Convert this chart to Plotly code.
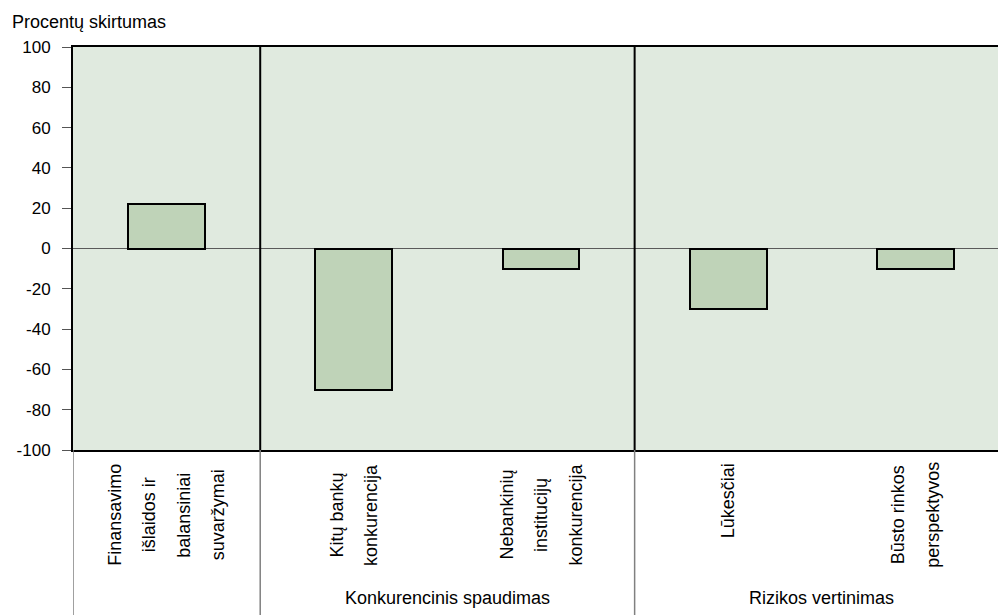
import plotly.graph_objects as go

# ---- data ----
categories = ["Finansavimo išlaidos ir balansiniai suvaržymai",
              "Kitų bankų konkurencija",
              "Nebankinių institucijų konkurencija",
              "Lūkesčiai",
              "Būsto rinkos perspektyvos"]
category_lines = [["Finansavimo", "išlaidos ir", "balansiniai", "suvaržymai"],
                  ["Kitų bankų", "konkurencija"],
                  ["Nebankinių", "institucijų", "konkurencija"],
                  ["Lūkesčiai"],
                  ["Būsto rinkos", "perspektyvos"]]
values = [22, -70, -10, -30, -10]
groups = ["", "Konkurencinis spaudimas", "Rizikos vertinimas"]
group_sizes = [1, 2, 2]
y_ticks = [100, 80, 60, 40, 20, 0, -20, -40, -60, -80, -100]
y_title = "Procentų skirtumas"

FONT = "Liberation Sans, Arial, sans-serif"
xpos = list(range(len(values)))

fig = go.Figure()
fig.add_trace(go.Bar(
    x=xpos, y=values, width=0.41,
    marker=dict(color="#bfd3b8", line=dict(color="black", width=2)),
    showlegend=False, hoverinfo="y"))

shapes = []
annotations = []

# group boundaries
bounds = [-0.5]
for s in group_sizes:
    bounds.append(bounds[-1] + s)
for i, b in enumerate(bounds[:-1]):
    # gray separator below the plot area
    shapes.append(dict(type="line", xref="x", yref="paper", x0=b, x1=b,
                       y0=0, y1=-0.42, line=dict(color="#808080", width=1.5)))
    if i > 0:
        shapes.append(dict(type="line", xref="x", yref="paper", x0=b, x1=b,
                           y0=0, y1=1, line=dict(color="black", width=2)))

# category labels (rotated, one annotation per line)
spacing = 34.5
for i, lines in enumerate(category_lines):
    n = len(lines)
    yc = -51 if lines == ["Lūkesčiai"] else -65
    for j, ln in enumerate(lines):
        annotations.append(dict(
            x=i, y=0, xref="x", yref="paper", text=ln, showarrow=False,
            textangle=-90, xanchor="center", yanchor="middle",
            xshift=(j - (n - 1) / 2) * spacing, yshift=yc,
            font=dict(family=FONT, size=18, color="black")))

# group labels
for g, lo, hi in zip(groups, bounds[:-1], bounds[1:]):
    if g:
        annotations.append(dict(
            x=(lo + hi) / 2, y=0, xref="x", yref="paper", text=g,
            showarrow=False, xanchor="center", yanchor="middle", yshift=-148,
            font=dict(family=FONT, size=18, color="black")))

annotations.append(dict(
    x=12, y=22, xref="paper", yref="paper", text=y_title, showarrow=False))
annotations.pop()

fig.update_layout(
    width=998, height=615,
    margin=dict(l=73, r=0, t=47, b=165),
    paper_bgcolor="white", plot_bgcolor="#e0eadf",
    font=dict(family=FONT, size=17, color="black"),
    title=dict(text=y_title, x=12 / 998, y=1 - 22 / 615, xref="container",
               yref="container", xanchor="left", yanchor="middle",
               font=dict(family=FONT, size=18, color="black")),
    shapes=shapes, annotations=annotations,
    bargap=0,
)
fig.update_xaxes(range=[-0.5, 4.441], showticklabels=False, ticks="",
                 showgrid=False, zeroline=False, showline=True,
                 linecolor="black", linewidth=2, mirror=True, fixedrange=True)
fig.update_yaxes(range=[-100, 100], tickvals=y_ticks,
                 ticktext=[str(v) for v in y_ticks],
                 showgrid=False, zeroline=True, zerolinecolor="#5a5a5a",
                 zerolinewidth=1, showline=True, linecolor="black",
                 linewidth=2, ticks="outside", ticklen=9, tickcolor="#555",
                 tickwidth=1, ticklabelstandoff=8,
                 tickfont=dict(family=FONT, size=17, color="black"),
                 fixedrange=True)

fig.write_html("out.html")
